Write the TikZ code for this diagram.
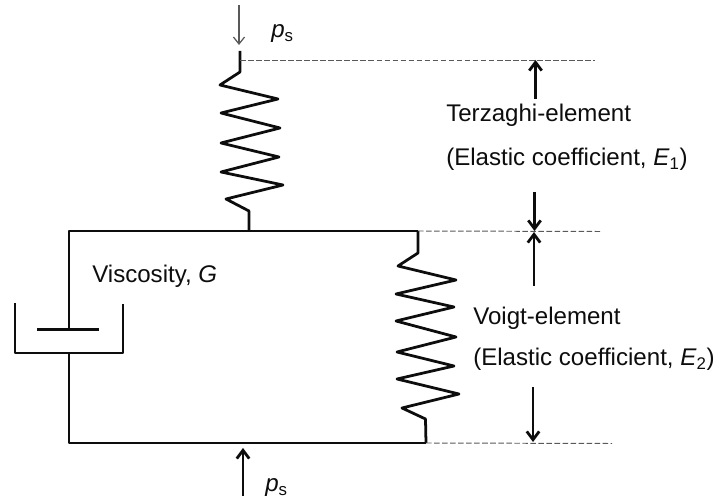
\documentclass[tikz,border=0pt]{standalone}
\usepackage{fontspec}
\setmainfont{Liberation Sans}
\usetikzlibrary{arrows.meta}
\definecolor{RichBlack}{gray}{0.05}
\definecolor{LeaderGray}{gray}{0.35}
\tikzset{%
  smooth_path/.style={%
    color=RichBlack,%
    line join=round,%
    line width=2pt,%
  },
  leader_path/.style={%
    dashed,%
    color=LeaderGray,%
    line width=0.7pt,%
    dash pattern=on 4pt off 1.8pt,%
  },
  load_path/.style={%
    color=LeaderGray,%
    line width=0.9pt,%
    -{Straight Barb[length=5pt,width=8pt]},%
  },
  span_path/.style={%
    color=RichBlack,%
    line width=2pt,%
    -{Straight Barb[length=6pt,width=9pt]},%
  },
  annotate/.style={%
    color=RichBlack,%
    inner sep=0pt,%
    anchor=base west,%
    font={\fontsize{17.4}{20}\selectfont},%
  },
}
\begin{document}
\begin{tikzpicture}[x=0.01in, y=-0.01in]

    \useasboundingbox (0, 0) rectangle (715, 502);

    % frame corners
    \coordinate (TopLeft) at (69, 231);
    \coordinate (TopJoin) at (249, 231);
    \coordinate (TopRight) at (418, 231);
    \coordinate (BottomLeft) at (69, 443);
    \coordinate (BottomRight) at (426, 443);

    % dashpot
    \coordinate (PlateLeft) at (37, 329.5);
    \coordinate (PlateRight) at (99, 329.5);
    \coordinate (PlateMid) at (69, 329.5);
    \coordinate (CupMid) at (69, 353);

    % leaders
    \coordinate (TopStub) at (240, 51);
    \coordinate (LeadA) at (240, 60);
    \coordinate (LeadAEnd) at (595, 60);
    \coordinate (LeadBEnd) at (600, 231.5);
    \coordinate (LeadCEnd) at (612, 443.5);

    \node [annotate] (LoadTop) at (271, 38) {\textit{p}\textsubscript{s}};
    \node [annotate] (LoadBottom) at (265, 492) {\textit{p}\textsubscript{s}};
    \node [annotate] (Viscosity) at (92, 283) {Viscosity, \textit{G}};
    \node [annotate] (Terzaghi) at (446, 122) {Terzaghi-element};
    \node [annotate] (TerzaghiCoeff) at (446, 166) {(Elastic coefficient, \textit{E}\textsubscript{1})};
    \node [annotate] (Voigt) at (473, 325) {Voigt-element};
    \node [annotate] (VoigtCoeff) at (473, 366) {(Elastic coefficient, \textit{E}\textsubscript{2})};

    % series spring
    \draw [smooth_path]
      (TopStub)
      --
      (240, 72) -- (220, 85) -- (278, 99) -- (221, 113) -- (280, 128)
      -- (221, 143) -- (279, 157) -- (221, 172) -- (283, 185) -- (226, 199)
      -- (249, 211)
      --
      (TopJoin);

    % parallel spring
    \draw [smooth_path]
      (TopRight)
      --
      (418, 253) -- (398, 266) -- (456, 280) -- (396, 294) -- (454, 307)
      -- (396, 321) -- (456, 337) -- (397, 352) -- (454, 366) -- (397, 379)
      -- (459, 394) -- (402, 408) -- (425.5, 419)
      --
      (BottomRight);

    \draw [smooth_path] (PlateMid) -- (TopLeft) -- (TopRight);
    \draw [smooth_path] (CupMid) -- (BottomLeft) -- (BottomRight);
    \draw [smooth_path] (PlateLeft) -- (PlateRight);
    \draw [smooth_path] (15, 303) -- (15, 353) -- (123, 353) -- (123, 304);

    \draw [leader_path] (LeadA) -- (LeadAEnd);
    \draw [leader_path] (TopRight) -- (LeadBEnd);
    \draw [leader_path] (BottomRight) -- (LeadCEnd);

    \draw [load_path] (239, 5) -- (239, 45);
    \draw [span_path] (243, 496) -- (243, 448);
    \draw [span_path] (535.5, 99) -- (535.5, 60);
    \draw [span_path] (534.5, 192) -- (534.5, 231);
    \draw [span_path] (534, 286) -- (534, 232);
    \draw [span_path] (533, 387) -- (533, 442);
  \end{tikzpicture}
\end{document}
